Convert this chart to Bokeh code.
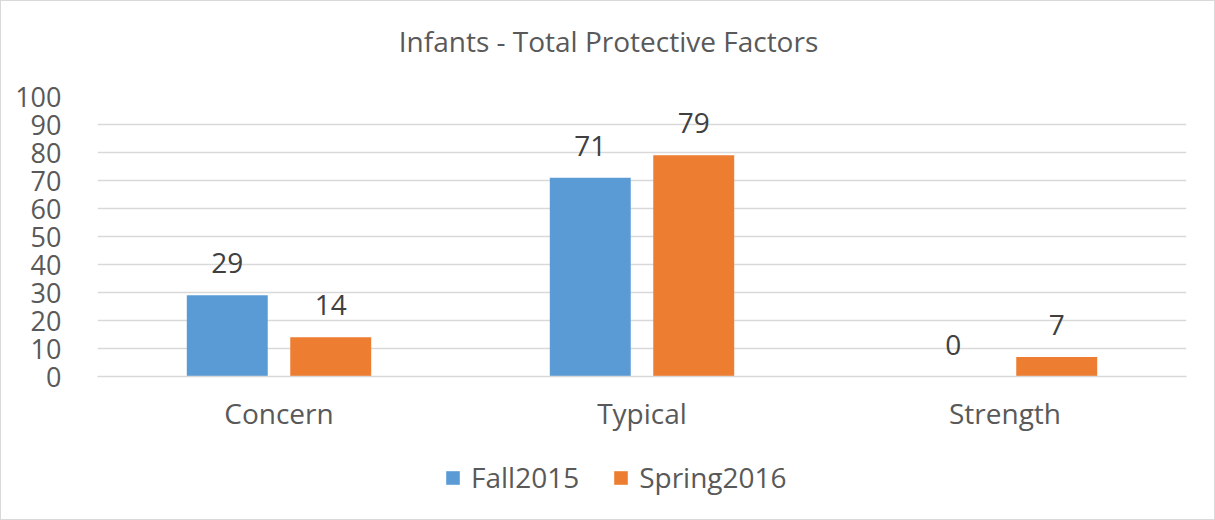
from bokeh.plotting import figure
from bokeh.layouts import column
from bokeh.models import (ColumnDataSource, FactorRange, Range1d, Legend, LegendItem,
                          LabelSet, Label, FixedTicker)
from bokeh.transform import dodge
from bokeh.embed import file_html
from bokeh.resources import INLINE
from bokeh.core.properties import value

title_text = "Infants - Total Protective Factors"
categories = ["Concern", "Typical", "Strength"]
series_names = ["Fall2015", "Spring2016"]
fall2015 = [29, 71, 0]
spring2016 = [14, 79, 7]
y_ticks = [0, 10, 20, 30, 40, 50, 60, 70, 80, 90, 100]

colors = ["#5B9BD5", "#ED7D31"]
FONT = "Open Sans"
TXT = "#595959"


def strip(h):
    f = figure(width=1213, height=h, x_range=Range1d(0, 1), y_range=Range1d(0, 1),
               x_axis_location=None, y_axis_location=None,
               output_backend="svg", toolbar_location=None, min_border=0)
    f.grid.visible = False
    f.outline_line_color = None
    f.background_fill_color = "white"
    f.border_fill_color = "white"
    return f


# title strip
p0 = strip(60)
p0.add_layout(Label(x=511, y=21, x_units="screen", y_units="screen", text=title_text,
                    text_align="center", text_baseline="middle",
                    text_font=FONT, text_font_size="28px", text_color=TXT))

src = ColumnDataSource(dict(
    cat=categories, fall=fall2015, spring=spring2016,
    fall_lbl=[str(v) for v in fall2015], spring_lbl=[str(v) for v in spring2016],
))

p = figure(width=1213, height=380, x_range=FactorRange(*categories, range_padding=0),
           y_range=Range1d(0, 100), output_backend="svg", toolbar_location=None,
           min_border_left=96, min_border_right=28, min_border_bottom=65, min_border_top=35)

off = 0.1425
w = 0.223
r1 = p.vbar(x=dodge("cat", -off, range=p.x_range), top="fall", width=w, source=src,
            fill_color=colors[0], line_color=None)
r2 = p.vbar(x=dodge("cat", off, range=p.x_range), top="spring", width=w, source=src,
            fill_color=colors[1], line_color=None)

for col, lab, o in [("fall", "fall_lbl", -off), ("spring", "spring_lbl", off)]:
    ls = LabelSet(x=dodge("cat", o, range=p.x_range), y=col, text=lab, source=src,
                  text_align="center", text_baseline="bottom", y_offset=22,
                  text_font=value(FONT), text_font_size="28px", text_color="#404040")
    p.add_layout(ls)

p.outline_line_color = None
p.background_fill_color = "white"
p.border_fill_color = "white"

p.ygrid.grid_line_color = "#D9D9D9"
p.ygrid.grid_line_width = 1.5
p.xgrid.grid_line_color = None
p.yaxis.ticker = FixedTicker(ticks=y_ticks)
p.yaxis.axis_line_color = None
p.yaxis.major_tick_line_color = None
p.yaxis.minor_tick_line_color = None
p.yaxis.major_label_text_font = FONT
p.yaxis.major_label_text_font_size = "27px"
p.yaxis.major_label_text_color = TXT
p.yaxis.major_label_standoff = 30

p.xaxis.axis_line_color = "#D9D9D9"
p.xaxis.axis_line_width = 1.5
p.xaxis.major_tick_line_color = None
p.xaxis.major_label_text_font = FONT
p.xaxis.major_label_text_font_size = "28px"
p.xaxis.major_label_text_color = TXT
p.xaxis.major_label_standoff = 11

# legend strip
p2 = strip(78)
l1 = p2.vbar(x=[0.5], top=[0], width=0.1, fill_color=colors[0], line_color=None)
l2 = p2.vbar(x=[0.5], top=[0], width=0.1, fill_color=colors[1], line_color=None)
legend = Legend(items=[LegendItem(label=series_names[0], renderers=[l1]),
                       LegendItem(label=series_names[1], renderers=[l2])],
                orientation="horizontal", location=(347, 23),
                label_text_font=FONT, label_text_font_size="28px", label_text_color=TXT,
                glyph_width=17, glyph_height=17, label_standoff=10, spacing=33,
                padding=0, margin=0, border_line_color=None, background_fill_alpha=0)
p2.add_layout(legend, "center")

lay = column(p0, p, p2, spacing=0)
lay.styles = {"border": "1px solid #D9D9D9"}

open("out.html", "w").write(file_html(lay, INLINE))
